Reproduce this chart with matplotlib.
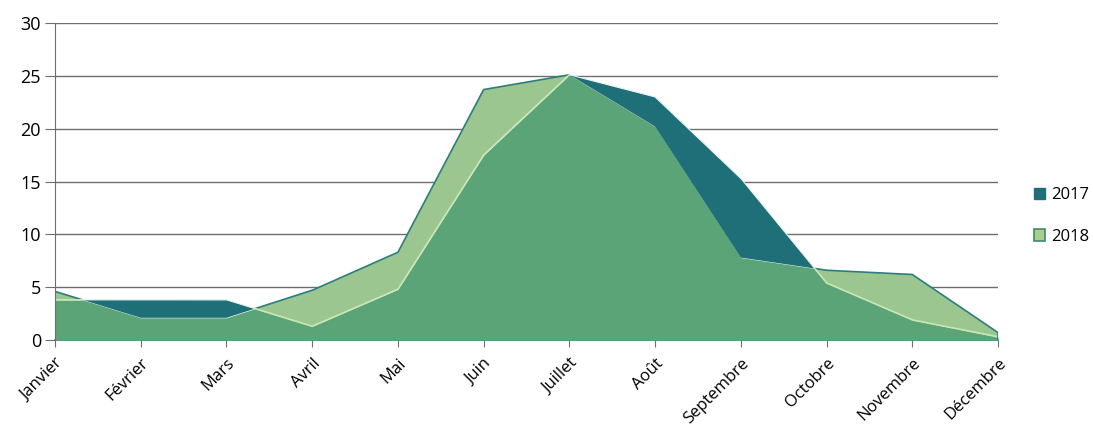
import numpy as np
import matplotlib
matplotlib.use("Agg")
import matplotlib.pyplot as plt
from matplotlib.patches import Patch

months = ['Janvier', 'Février', 'Mars', 'Avril', 'Mai', 'Juin', 'Juillet',
          'Août', 'Septembre', 'Octobre', 'Novembre', 'Décembre']
s2017 = [3.8, 3.8, 3.8, 1.3, 4.8, 17.5, 25.1, 23.0, 15.3, 5.4, 1.9, 0.3]
s2018 = [4.6, 2.1, 2.1, 4.7, 8.3, 23.7, 25.1, 20.2, 7.8, 6.6, 6.2, 0.7]
yticks = [0, 5, 10, 15, 20, 25, 30]

TEAL = '#1f6f78'
MID = '#5aa477'
PALE = '#9cc690'
EDGE = '#2b7e7e'
LIGHTLINE = '#c9e7b4'
GRID = '#6e6e6e'

plt.rcParams['font.family'] = ['Open Sans', 'DejaVu Sans']

fig = plt.figure(figsize=(10.93, 4.25), dpi=100)
ax = fig.add_axes([55/1093, 1 - 340/425, (998-55)/1093, (340-23)/425])

x = np.arange(len(months))
a = np.array(s2017)
b = np.array(s2018)

for y in yticks[1:]:
    ax.axhline(y, color=GRID, lw=1.0, zorder=1)

xf = np.linspace(0, len(months) - 1, 2000)
af = np.interp(xf, x, a)
bf = np.interp(xf, x, b)
lo = np.minimum(af, bf)
ax.fill_between(xf, 0, lo, color=MID, lw=0, zorder=4)
ax.fill_between(xf, lo, bf, where=bf >= af, color=PALE, lw=0, zorder=4)
ax.fill_between(xf, lo, af, where=af >= bf, color=TEAL, lw=0, zorder=4)
# outlines
ax.plot(xf, np.where(bf >= af, bf, np.nan), color=EDGE, lw=1.2, zorder=5)
ax.plot(xf, np.where(af > bf, af, np.nan), color='#e8f2ee', lw=0.8, zorder=5)
ax.plot(xf, np.where(bf > af, af, np.nan), color=LIGHTLINE, lw=1.2, zorder=5)
ax.plot([len(months) - 1] * 2, [0, b[-1]], color=EDGE, lw=1.2, zorder=5)

ax.set_xlim(0, len(months) - 1)
ax.set_ylim(0, 30)
ax.set_yticks(yticks)
ax.set_xticks(x)
ax.set_xticklabels(months, rotation=45, ha='right', rotation_mode='anchor', fontsize=12)
ax.tick_params(axis='y', length=7, color=GRID, labelsize=13, pad=3)
ax.tick_params(axis='x', length=5, color=GRID, pad=6)
for sp in ['top', 'right']:
    ax.spines[sp].set_visible(False)
ax.spines['left'].set_color(GRID)
ax.spines['bottom'].set_color(EDGE)
ax.spines['bottom'].set_linewidth(1.2)
ax.spines['left'].set_zorder(6)

handles = [Patch(facecolor=TEAL, edgecolor=TEAL, label='2017'),
           Patch(facecolor='#a9cf8c', edgecolor='#3f8a6a', lw=1.2, label='2018')]
fig.legend(handles=handles, loc='center left', bbox_to_anchor=(1034/1093, 1 - 216/425),
           frameon=False, fontsize=12, handlelength=0.65, handleheight=0.65,
           labelspacing=1.55, handletextpad=0.4, borderaxespad=0, borderpad=0)

fig.savefig('out.png', dpi=100)
